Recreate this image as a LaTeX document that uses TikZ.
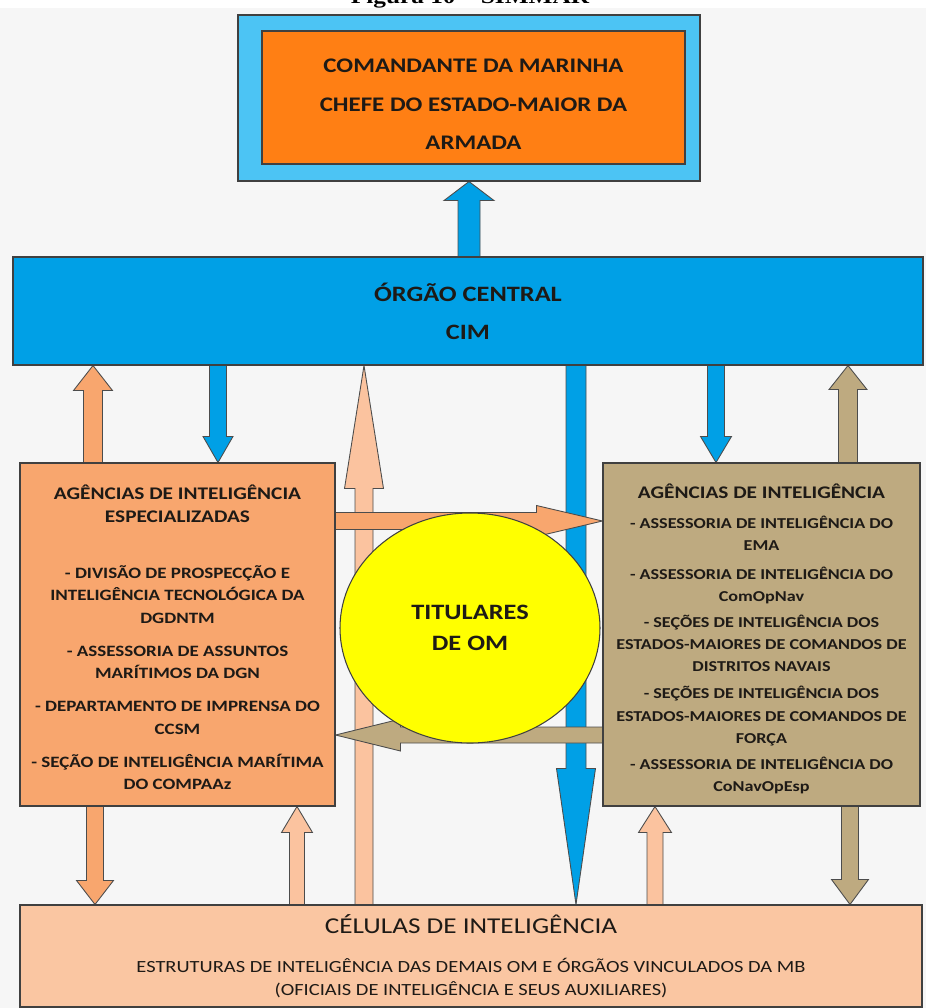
\documentclass[tikz,border=0pt]{standalone}
\usepackage{fontspec}
\setmainfont{Carlito}[FakeStretch=1.2]
\newfontfamily\capfont{Liberation Serif}[FakeStretch=1.2]
\usetikzlibrary{calc,shapes.geometric}
\pgfdeclarelayer{back}
\pgfdeclarelayer{bg}
\pgfsetlayers{back,bg,main}
\def\pxu{0.02cm}
\definecolor{topblue}{HTML}{4CC4F4}
\definecolor{cmdorange}{HTML}{FF7F14}
\definecolor{cimblue}{HTML}{00A0E6}
\definecolor{agorange}{HTML}{F8A66E}
\definecolor{agtan}{HTML}{BEAA80}
\definecolor{cellpeach}{HTML}{FAC6A2}
\definecolor{arrowpeach}{HTML}{FBC39F}
\definecolor{tityellow}{HTML}{FFFF00}
\definecolor{inkdark}{HTML}{1E1A16}
\definecolor{pagegray}{HTML}{F6F6F6}
\tikzset{
    every node/.style={inner sep=0mm, text=inkdark},
    box/.style={rectangle, draw=black!75, line width=.6pt},
    blkshaft/.store in=\blkshaft,
    blkhead/.store in=\blkhead,
    blklen/.store in=\blklen,
    blkshaft=9*\pxu, blkhead=19*\pxu, blklen=25*\pxu,
    blk/.style={draw=black!70, line width=.5pt, to path={
        ($(\tikztostart)!\blkshaft!90:(\tikztotarget)$)
        -- ($($(\tikztotarget)!\blklen!(\tikztostart)$)!\blkshaft!90:(\tikztotarget)$)
        -- ($($(\tikztotarget)!\blklen!(\tikztostart)$)!\blkhead!90:(\tikztotarget)$)
        -- (\tikztotarget)
        -- ($($(\tikztotarget)!\blklen!(\tikztostart)$)!\blkhead!-90:(\tikztotarget)$)
        -- ($($(\tikztotarget)!\blklen!(\tikztostart)$)!\blkshaft!-90:(\tikztotarget)$)
        -- ($(\tikztostart)!\blkshaft!-90:(\tikztotarget)$)
        -- cycle}}
}
\begin{document}
\begin{tikzpicture}[x=\pxu, y=-\pxu]
        \useasboundingbox (0,0) rectangle (926,1008);
        \begin{pgfonlayer}{back}
                \fill[white] (0,0) rectangle (926,8);
                \fill[pagegray] (0,8) rectangle (926,1008);
        \end{pgfonlayer}
        \node (fig) [anchor=base, text=black, font=\capfont\bfseries\fontsize{12}{14}\selectfont] at (470,3) {Figura 10 – SIMMAR};
        \node (cmdframe) [box, fill=topblue, minimum width=462*\pxu, minimum height=166*\pxu] at (469,98) {};
        \node (cmd) [box, fill=cmdorange, minimum width=423*\pxu, minimum height=133*\pxu, align=center, font=\bfseries\fontsize{11.8}{22}\selectfont] at (473.5,97.5) {\rule{0pt}{15.6pt}COMANDANTE DA MARINHA\\CHEFE DO ESTADO-MAIOR DA\\ARMADA};
        \node (cim) [box, fill=cimblue, minimum width=910*\pxu, minimum height=108*\pxu, align=center, font=\bfseries\fontsize{12.5}{21.5}\selectfont] at (468,311) {ÓRGÃO CENTRAL\\CIM};
        \node (espec) [box, fill=agorange, minimum width=315*\pxu, minimum height=343*\pxu, align=center, font=\bfseries\fontsize{9}{12.75}\selectfont] at (177.5,634.5) {\rule{0pt}{11.5pt}{\fontsize{10.1}{13}\selectfont AGÊNCIAS DE INTELIGÊNCIA}\\[.3pt]
                {\fontsize{10.1}{13}\selectfont ESPECIALIZADAS}\\[19.2pt]
                - DIVISÃO DE PROSPECÇÃO E\\INTELIGÊNCIA TECNOLÓGICA DA\\DGDNTM\\[6.1pt]
                - ASSESSORIA DE ASSUNTOS\\MARÍTIMOS DA DGN\\[6.1pt]
                - DEPARTAMENTO DE IMPRENSA DO\\CCSM\\[6.1pt]
                - SEÇÃO DE INTELIGÊNCIA MARÍTIMA\\DO COMPAAz};
        \node (agint) [box, fill=agtan, minimum width=317*\pxu, minimum height=343*\pxu, align=center, font=\bfseries\fontsize{8.6}{12.6}\selectfont] at (761.5,634.5) {\rule{0pt}{13pt}{\fontsize{10.1}{13}\selectfont AGÊNCIAS DE INTELIGÊNCIA}\\[4.6pt]
                - ASSESSORIA DE INTELIGÊNCIA DO\\EMA\\[3.9pt]
                - ASSESSORIA DE INTELIGÊNCIA DO\\ComOpNav\\[2.2pt]
                - SEÇÕES DE INTELIGÊNCIA DOS\\ESTADOS-MAIORES DE COMANDOS DE\\DISTRITOS NAVAIS\\[2.8pt]
                - SEÇÕES DE INTELIGÊNCIA DOS\\ESTADOS-MAIORES DE COMANDOS DE\\FORÇA\\[2.2pt]
                - ASSESSORIA DE INTELIGÊNCIA DO\\CoNavOpEsp};
        \node (cells) [box, fill=cellpeach, minimum width=902*\pxu, minimum height=102*\pxu, align=center, font=\fontsize{9.7}{13}\selectfont] at (471,956) {{\fontsize{12.9}{15}\selectfont CÉLULAS DE INTELIGÊNCIA}\\[9.2pt]
                ESTRUTURAS DE INTELIGÊNCIA DAS DEMAIS OM E ÓRGÃOS VINCULADOS DA MB\\(OFICIAIS DE INTELIGÊNCIA E SEUS AUXILIARES)};
        \node (tit) [ellipse, draw=black!75, line width=.6pt, fill=tityellow, minimum width=260*\pxu, minimum height=230*\pxu, align=center, font=\bfseries\fontsize{12.5}{17.6}\selectfont] at (470,628) {TITULARES\\DE OM};
        \coordinate (c1) at (93,0);
        \coordinate (c2) at (218,0);
        \coordinate (c3) at (716,0);
        \coordinate (c4) at (848,0);
        \coordinate (c5) at (469,0);
        \coordinate (c6) at (95,0);
        \coordinate (c7) at (297,0);
        \coordinate (c8) at (655,0);
        \coordinate (c9) at (850,0);
        \coordinate (c10) at (364,0);
        \coordinate (c11) at (576,0);
        \coordinate (h1) at (0,521);
        \coordinate (h2) at (0,735);
        \begin{pgfonlayer}{bg}
                \draw[blk, fill=cimblue, blkshaft=11*\pxu, blkhead=25*\pxu, blklen=19*\pxu] (c5 |- cim.north) to (c5 |- cmdframe.south);
                \draw[blk, fill=agorange, blkshaft=9.5*\pxu, blkhead=19.5*\pxu, blklen=25*\pxu] (c1 |- espec.north) to (c1 |- cim.south);
                \draw[blk, fill=cimblue, blkshaft=8.5*\pxu, blkhead=15*\pxu, blklen=26*\pxu] (c2 |- cim.south) to (c2 |- espec.north);
                \draw[blk, fill=cimblue, blkshaft=8.5*\pxu, blkhead=15.5*\pxu, blklen=26*\pxu] (c3 |- cim.south) to (c3 |- agint.north);
                \draw[blk, fill=agtan, blkshaft=9.5*\pxu, blkhead=19*\pxu, blklen=24*\pxu] (c4 |- agint.north) to (c4 |- cim.south);
                \draw[blk, fill=agorange, blkshaft=8.5*\pxu, blkhead=18.5*\pxu, blklen=24*\pxu] (c6 |- espec.south) to (c6 |- cells.north);
                \draw[blk, fill=arrowpeach, blkshaft=7.5*\pxu, blkhead=15.5*\pxu, blklen=26*\pxu] (c7 |- cells.north) to (c7 |- espec.south);
                \draw[blk, fill=arrowpeach, blkshaft=8*\pxu, blkhead=16.5*\pxu, blklen=26*\pxu] (c8 |- cells.north) to (c8 |- agint.south);
                \draw[blk, fill=agtan, blkshaft=8.5*\pxu, blkhead=18.5*\pxu, blklen=25*\pxu] (c9 |- agint.south) to (c9 |- cells.north);
                \draw[blk, fill=arrowpeach, blkshaft=9*\pxu, blkhead=19.5*\pxu, blklen=123*\pxu] (c10 |- cells.north) to (c10 |- cim.south);
                \draw[blk, fill=cimblue, blkshaft=10*\pxu, blkhead=19.5*\pxu, blklen=136*\pxu] (c11 |- cim.south) to (c11 |- cells.north);
                \draw[blk, fill=agorange, blkshaft=8.5*\pxu, blkhead=15.5*\pxu, blklen=66*\pxu] (espec.east |- h1) to (agint.west |- h1);
                \draw[blk, fill=agtan, blkshaft=8*\pxu, blkhead=16*\pxu, blklen=65*\pxu] (agint.west |- h2) to (espec.east |- h2);
        \end{pgfonlayer}
\end{tikzpicture}
\end{document}
